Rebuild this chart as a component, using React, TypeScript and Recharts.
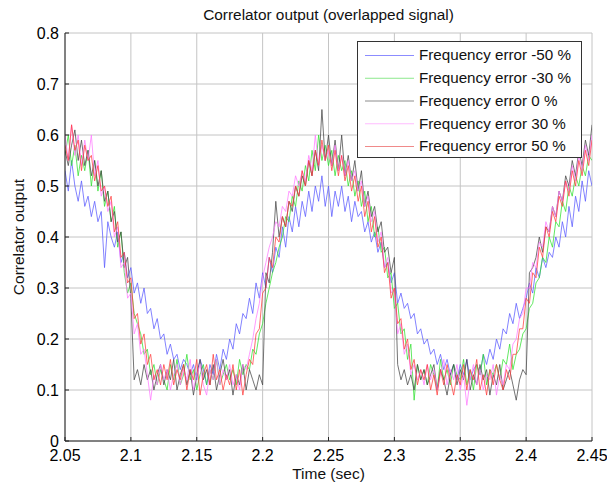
import React from 'react';
import { LineChart, Line, XAxis, YAxis, CartesianGrid } from 'recharts';

// sampling grid: 2.05 s .. 2.45 s, 2.5 ms step
const tStart = 2.05;
const tStep = 0.0025;

const xTicks = [2.05, 2.1, 2.15, 2.2, 2.25, 2.3, 2.35, 2.4, 2.45];
const yTicks = [0, 0.1, 0.2, 0.3, 0.4, 0.5, 0.6, 0.7, 0.8];

// Frequency error -50 %
const errM50 = [
  0.53, 0.49, 0.55, 0.50, 0.47, 0.51, 0.46, 0.48, 0.44, 0.47,
  0.43, 0.45, 0.34, 0.43, 0.40, 0.38, 0.41, 0.35, 0.37, 0.32,
  0.34, 0.29, 0.31, 0.27, 0.30, 0.25, 0.26, 0.22, 0.24, 0.20,
  0.21, 0.17, 0.19, 0.16, 0.17, 0.14, 0.16, 0.15, 0.13, 0.15,
  0.12, 0.16, 0.14, 0.11, 0.15, 0.13, 0.17, 0.14, 0.18, 0.16,
  0.20, 0.18, 0.23, 0.21, 0.25, 0.24, 0.28, 0.25, 0.31, 0.28,
  0.33, 0.30, 0.36, 0.33, 0.38, 0.36, 0.42, 0.38, 0.44, 0.41,
  0.46, 0.42, 0.47, 0.44, 0.49, 0.45, 0.50, 0.47, 0.52, 0.46,
  0.50, 0.44, 0.49, 0.46, 0.50, 0.45, 0.48, 0.43, 0.47, 0.44,
  0.45, 0.41, 0.43, 0.39, 0.41, 0.37, 0.39, 0.34, 0.35, 0.31,
  0.33, 0.27, 0.29, 0.26, 0.27, 0.24, 0.25, 0.21, 0.22, 0.19,
  0.20, 0.17, 0.18, 0.15, 0.17, 0.14, 0.16, 0.13, 0.15, 0.12,
  0.15, 0.13, 0.16, 0.12, 0.14, 0.15, 0.13, 0.17, 0.15, 0.18,
  0.16, 0.20, 0.18, 0.22, 0.21, 0.25, 0.23, 0.27, 0.24, 0.26,
  0.28, 0.31, 0.29, 0.34, 0.32, 0.36, 0.34, 0.37, 0.36, 0.40,
  0.38, 0.43, 0.40, 0.46, 0.42, 0.48, 0.45, 0.51, 0.47, 0.53, 0.50,
];

// Frequency error -30 %
const errM30 = [
  0.56, 0.60, 0.54, 0.58, 0.52, 0.56, 0.53, 0.57, 0.50, 0.55,
  0.49, 0.53, 0.46, 0.49, 0.43, 0.46, 0.38, 0.41, 0.33, 0.29,
  0.31, 0.25, 0.23, 0.21, 0.17, 0.18, 0.13, 0.15, 0.11, 0.14,
  0.12, 0.10, 0.15, 0.12, 0.16, 0.11, 0.13, 0.17, 0.12, 0.14,
  0.10, 0.13, 0.15, 0.11, 0.14, 0.12, 0.16, 0.11, 0.13, 0.15,
  0.12, 0.14, 0.11, 0.16, 0.13, 0.15, 0.14, 0.18, 0.17, 0.21,
  0.23, 0.27, 0.30, 0.33, 0.35, 0.38, 0.40, 0.44, 0.43, 0.48,
  0.46, 0.51, 0.49, 0.54, 0.51, 0.57, 0.53, 0.60, 0.55, 0.58,
  0.54, 0.57, 0.52, 0.56, 0.53, 0.55, 0.50, 0.53, 0.48, 0.51,
  0.46, 0.49, 0.43, 0.46, 0.40, 0.42, 0.37, 0.38, 0.32, 0.33,
  0.26, 0.27, 0.21, 0.22, 0.16, 0.19, 0.08, 0.15, 0.12, 0.14,
  0.11, 0.15, 0.13, 0.10, 0.16, 0.12, 0.14, 0.11, 0.15, 0.13,
  0.12, 0.16, 0.11, 0.14, 0.10, 0.15, 0.13, 0.17, 0.11, 0.14,
  0.13, 0.15, 0.12, 0.16, 0.15, 0.19, 0.14, 0.17, 0.18, 0.21,
  0.22, 0.26, 0.27, 0.31, 0.32, 0.36, 0.35, 0.40, 0.38, 0.43,
  0.42, 0.47, 0.45, 0.50, 0.48, 0.52, 0.50, 0.54, 0.52, 0.56, 0.55,
];

// Frequency error 0 %
const err0 = [
  0.57, 0.54, 0.58, 0.61, 0.55, 0.59, 0.54, 0.57, 0.52, 0.55,
  0.50, 0.53, 0.47, 0.49, 0.43, 0.45, 0.39, 0.41, 0.34, 0.36,
  0.28, 0.12, 0.14, 0.11, 0.15, 0.12, 0.14, 0.10, 0.13, 0.15,
  0.11, 0.14, 0.12, 0.16, 0.10, 0.13, 0.15, 0.11, 0.14, 0.09,
  0.13, 0.16, 0.12, 0.14, 0.11, 0.15, 0.10, 0.13, 0.16, 0.12,
  0.14, 0.09, 0.13, 0.11, 0.15, 0.10, 0.14, 0.12, 0.10, 0.13,
  0.11, 0.33, 0.31, 0.37, 0.47, 0.40, 0.44, 0.42, 0.47, 0.45,
  0.50, 0.48, 0.52, 0.50, 0.55, 0.52, 0.57, 0.53, 0.65, 0.55,
  0.60, 0.54, 0.59, 0.53, 0.60, 0.52, 0.56, 0.51, 0.55, 0.49,
  0.53, 0.46, 0.49, 0.44, 0.46, 0.41, 0.43, 0.37, 0.38, 0.33,
  0.36, 0.15, 0.12, 0.14, 0.11, 0.13, 0.10, 0.15, 0.12, 0.14,
  0.11, 0.13, 0.15, 0.10, 0.14, 0.12, 0.09, 0.13, 0.15, 0.11,
  0.14, 0.12, 0.16, 0.10, 0.13, 0.11, 0.15, 0.12, 0.14, 0.09,
  0.13, 0.11, 0.15, 0.10, 0.12, 0.14, 0.11, 0.08, 0.12, 0.14,
  0.13, 0.33, 0.34, 0.36, 0.40, 0.37, 0.42, 0.41, 0.46, 0.44,
  0.49, 0.47, 0.52, 0.50, 0.55, 0.52, 0.57, 0.54, 0.59, 0.56, 0.62,
];

// Frequency error 30 %
const errP30 = [
  0.60, 0.55, 0.62, 0.56, 0.60, 0.54, 0.59, 0.55, 0.60, 0.52,
  0.55, 0.48, 0.50, 0.45, 0.47, 0.40, 0.42, 0.34, 0.35, 0.28,
  0.29, 0.21, 0.23, 0.17, 0.18, 0.13, 0.08, 0.13, 0.11, 0.15,
  0.12, 0.14, 0.10, 0.13, 0.15, 0.11, 0.14, 0.12, 0.16, 0.10,
  0.13, 0.15, 0.11, 0.09, 0.14, 0.12, 0.16, 0.11, 0.14, 0.12,
  0.15, 0.11, 0.13, 0.10, 0.15, 0.14, 0.17, 0.20, 0.24, 0.27,
  0.32, 0.35, 0.38, 0.40, 0.43, 0.42, 0.46, 0.45, 0.49, 0.48,
  0.52, 0.50, 0.53, 0.51, 0.56, 0.53, 0.60, 0.54, 0.58, 0.55,
  0.57, 0.54, 0.58, 0.53, 0.56, 0.52, 0.55, 0.51, 0.53, 0.49,
  0.51, 0.46, 0.48, 0.43, 0.45, 0.39, 0.41, 0.34, 0.36, 0.29,
  0.30, 0.21, 0.23, 0.17, 0.19, 0.13, 0.15, 0.12, 0.14, 0.11,
  0.15, 0.12, 0.14, 0.10, 0.13, 0.16, 0.11, 0.14, 0.12, 0.15,
  0.10, 0.13, 0.07, 0.12, 0.15, 0.11, 0.14, 0.10, 0.13, 0.12,
  0.15, 0.09, 0.13, 0.11, 0.15, 0.14, 0.19, 0.20, 0.24, 0.25,
  0.30, 0.30, 0.35, 0.34, 0.39, 0.38, 0.43, 0.41, 0.46, 0.44,
  0.49, 0.47, 0.51, 0.49, 0.54, 0.51, 0.56, 0.53, 0.58, 0.55, 0.60,
];

// Frequency error 50 %
const errP50 = [
  0.58, 0.55, 0.62, 0.57, 0.59, 0.53, 0.58, 0.55, 0.56, 0.51,
  0.54, 0.49, 0.50, 0.46, 0.48, 0.41, 0.43, 0.36, 0.37, 0.31,
  0.32, 0.24, 0.25, 0.19, 0.21, 0.15, 0.17, 0.12, 0.14, 0.11,
  0.15, 0.12, 0.16, 0.11, 0.14, 0.12, 0.15, 0.10, 0.14, 0.12,
  0.16, 0.09, 0.13, 0.15, 0.11, 0.17, 0.12, 0.14, 0.10, 0.13,
  0.11, 0.15, 0.10, 0.14, 0.09, 0.13, 0.16, 0.15, 0.21, 0.22,
  0.29, 0.30, 0.36, 0.34, 0.40, 0.39, 0.44, 0.42, 0.47, 0.46,
  0.50, 0.48, 0.53, 0.50, 0.55, 0.52, 0.57, 0.54, 0.59, 0.55,
  0.58, 0.53, 0.57, 0.52, 0.56, 0.51, 0.54, 0.49, 0.52, 0.47,
  0.50, 0.44, 0.47, 0.41, 0.44, 0.38, 0.40, 0.33, 0.35, 0.28,
  0.30, 0.23, 0.24, 0.18, 0.20, 0.14, 0.16, 0.11, 0.14, 0.12,
  0.15, 0.10, 0.13, 0.09, 0.14, 0.11, 0.15, 0.12, 0.09, 0.13,
  0.11, 0.15, 0.10, 0.14, 0.12, 0.16, 0.10, 0.13, 0.09, 0.14,
  0.11, 0.15, 0.12, 0.10, 0.14, 0.12, 0.17, 0.17, 0.22, 0.22,
  0.28, 0.27, 0.33, 0.32, 0.38, 0.36, 0.42, 0.40, 0.45, 0.43,
  0.48, 0.46, 0.51, 0.48, 0.53, 0.50, 0.55, 0.52, 0.57, 0.54, 0.59,
];

const series = [
  { key: 'm50', name: 'Frequency error -50 %', color: '#5a5aff', legend: '#8c8cff', values: errM50 },
  { key: 'm30', name: 'Frequency error -30 %', color: '#2fe02f', legend: '#8ce88c', values: errM30 },
  { key: 'z0', name: 'Frequency error 0 %', color: '#454545', legend: '#8c8c8c', values: err0 },
  { key: 'p30', name: 'Frequency error 30 %', color: '#ff7aff', legend: '#ffbcff', values: errP30 },
  { key: 'p50', name: 'Frequency error 50 %', color: '#ff3c3c', legend: '#f08a8a', values: errP50 },
];

const data = errM50.map((_, i) => {
  const row: any = { t: tStart + i * tStep };
  series.forEach((s) => { row[s.key] = s.values[i]; });
  return row;
});

const font = '"Liberation Sans", Arial, sans-serif';
const noLabel = () => <g />;

export default function App() {
  return (
    <div style={{ position: 'absolute', left: 0, top: 0, width: 607, height: 488, background: '#fff', fontFamily: font }}>
      <div style={{ position: 'absolute', left: 65, width: 527, top: 6, textAlign: 'center', fontSize: 15.4, color: '#111' }}>
        Correlator output (overlapped signal)
      </div>

      <LineChart width={607} height={488} data={data} margin={{ top: 33, right: 15, left: 25, bottom: 17 }}>
        <CartesianGrid stroke="#c4c4c4" strokeWidth={1} />
        <XAxis
          dataKey="t"
          type="number"
          domain={[2.05, 2.45]}
          ticks={xTicks}
          allowDataOverflow
          tickFormatter={(v: number) => String(+v.toFixed(2))}
          tick={{ fill: '#000', fontSize: 16, fontFamily: font }}
          tickSize={-4}
          tickMargin={13}
          stroke="#222"
          height={30}
        />
        <YAxis
          type="number"
          domain={[0, 0.8]}
          ticks={yTicks}
          allowDataOverflow
          tickFormatter={(v: number) => String(+v.toFixed(1))}
          tick={{ fill: '#000', fontSize: 16, fontFamily: font }}
          tickSize={-4}
          tickMargin={10}
          stroke="#222"
          width={40}
        />
        <XAxis xAxisId="top" orientation="top" type="number" domain={[2.05, 2.45]} ticks={xTicks} allowDataOverflow tick={noLabel} tickSize={-4} stroke="#222" height={0} />
        <YAxis yAxisId="right" orientation="right" type="number" domain={[0, 0.8]} ticks={yTicks} allowDataOverflow tick={noLabel} tickSize={-4} stroke="#222" width={0} />
        {series.map((s) => (
          <Line
            key={s.key}
            dataKey={s.key}
            name={s.name}
            stroke={s.color}
            strokeWidth={0.75}
            dot={false}
            type="linear"
            isAnimationActive={false}
          />
        ))}
      </LineChart>

      {/* Legend */}
      <div style={{ position: 'absolute', left: 357, top: 41, width: 225, height: 117, border: '1px solid #333', background: '#fff', boxSizing: 'border-box' }}>
        <svg width={223} height={115} style={{ position: 'absolute', left: 0, top: 0 }}>
          {series.map((s, i) => (
            <g key={s.key}>
              <line x1={7} x2={56} y1={13.5 + i * 22.75} y2={13.5 + i * 22.75} stroke={s.legend} strokeWidth={1} />
              <text x={61} y={13 + i * 22.75} dy="0.35em" fontSize={15.2} fill="#111" fontFamily={font}>{s.name}</text>
            </g>
          ))}
        </svg>
      </div>

      <div style={{ position: 'absolute', left: 65, width: 527, top: 465, textAlign: 'center', fontSize: 15.5, color: '#111' }}>
        Time (sec)
      </div>
      <div style={{ position: 'absolute', left: 19, top: 237, transform: 'translate(-50%, -50%) rotate(-90deg)', fontSize: 15.5, color: '#111', whiteSpace: 'nowrap' }}>
        Correlator output
      </div>
    </div>
  );
}
